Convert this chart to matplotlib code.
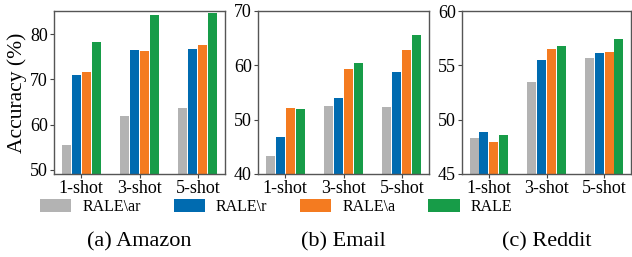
import numpy as np
import matplotlib.pyplot as plt

plt.rcParams['font.family'] = ['Liberation Serif', 'DejaVu Serif']

shots = ['1-shot', '3-shot', '5-shot']
methods = ['RALE\\ar', 'RALE\\r', 'RALE\\a', 'RALE']
colors = ['#b3b3b3', '#006bb0', '#f47b20', '#179c48']

# rows = methods, cols = shots
amazon = [[55.5, 61.9, 63.7],
          [71.0, 76.5, 76.7],
          [71.7, 76.3, 77.6],
          [78.2, 84.2, 84.6]]
email = [[43.4, 52.5, 52.3],
         [46.8, 54.0, 58.8],
         [52.2, 59.4, 62.8],
         [52.0, 60.5, 65.5]]
reddit = [[48.35, 53.5, 55.7],
          [48.9, 55.5, 56.1],
          [47.95, 56.5, 56.25],
          [48.6, 56.8, 57.45]]

panels = [(amazon, '(a) Amazon', (49.1, 85.1), [50, 60, 70, 80]),
          (email, '(b) Email', (40, 70), [40, 50, 60, 70]),
          (reddit, '(c) Reddit', (45, 60), [45, 50, 55, 60])]

fig = plt.figure(figsize=(6.32, 2.57), dpi=100)
lefts = [54, 258, 462]
widths = [171, 171, 169]
x = np.arange(len(shots))
for k, (data, title, ylim, yt) in enumerate(panels):
    ax = fig.add_axes([lefts[k] / 632, 1 - 174 / 257, widths[k] / 632, 163 / 257])
    for i in range(4):
        ax.bar(x + (i - 1.5) * 0.17, data[i], 0.155, color=colors[i],
               label=methods[i], zorder=2)
    ax.set_ylim(*ylim)
    ax.set_yticks(yt)
    ax.set_xticks(x)
    ax.set_xticklabels(shots)
    ax.tick_params(labelsize=13, length=3, width=0.8, color='#444444', pad=1.5)
    for s in ax.spines.values():
        s.set_color('#555555')
        s.set_linewidth(1.0)
    if k == 0:
        ax.set_ylabel('Accuracy (%)', fontsize=15.5, labelpad=2)
    cx = (lefts[k] + widths[k] / 2) / 632
    fig.text(cx, 0.058, title, ha='center', va='center', fontsize=16)

handles, labels = ax.get_legend_handles_labels()
fig.legend(handles, labels, loc='center', bbox_to_anchor=(0.437, 0.195), ncol=4,
           frameon=False, fontsize=11.5, handlelength=1.95, handleheight=0.9,
           columnspacing=2.05, handletextpad=0.7, borderaxespad=0, borderpad=0)

fig.savefig('out.png', dpi=100)
